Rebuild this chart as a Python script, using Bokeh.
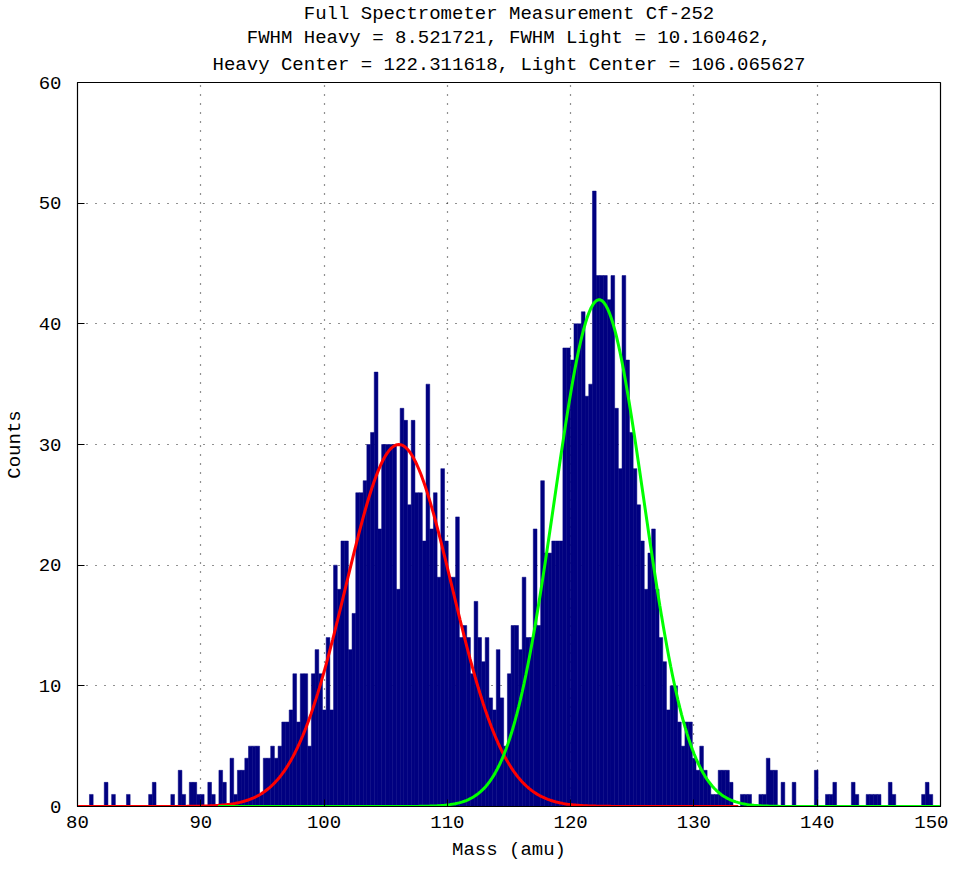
import numpy as np
from bokeh.plotting import figure
from bokeh.models import ColumnDataSource, Range1d, Title, FixedTicker
from bokeh.embed import file_html
from bokeh.resources import INLINE

# ---- histogram data (mass bins, amu) ----
bin_start = 80.07
bin_width = 0.3
counts = [
    0, 0, 0, 1, 0, 0, 0, 2, 0, 1,
    0, 0, 0, 1, 0, 0, 0, 0, 0, 1,
    2, 0, 0, 0, 0, 1, 0, 3, 1, 0,
    2, 2, 1, 1, 0, 2, 1, 0, 3, 2,
    0, 4, 1, 3, 3, 4, 5, 5, 5, 1,
    4, 4, 5, 4, 5, 7, 7, 8, 11, 7,
    11, 11, 5, 11, 13, 11, 8, 14, 8, 20,
    18, 22, 22, 13, 16, 26, 26, 27, 30, 31,
    36, 23, 30, 30, 30, 30, 18, 33, 32, 25,
    32, 26, 26, 22, 35, 23, 26, 19, 28, 22,
    19, 19, 24, 14, 15, 14, 11, 17, 14, 12,
    14, 9, 8, 13, 9, 5, 11, 15, 15, 13,
    19, 14, 14, 23, 15, 27, 21, 21, 22, 22,
    22, 38, 38, 37, 40, 40, 41, 34, 35, 51,
    44, 44, 44, 42, 44, 33, 28, 44, 37, 31,
    28, 25, 22, 18, 21, 23, 18, 14, 12, 8,
    10, 10, 7, 5, 7, 7, 4, 3, 5, 3,
    2, 1, 1, 3, 3, 3, 2, 0, 0, 1,
    1, 1, 0, 0, 1, 1, 4, 3, 3, 0,
    2, 0, 0, 2, 0, 0, 0, 0, 0, 3,
    0, 0, 1, 1, 2, 0, 0, 0, 0, 2,
    1, 0, 0, 1, 1, 1, 1, 0, 0, 2,
    1, 0, 0, 0, 0, 0, 0, 0, 1, 2,
    1, 0, 0,
]

# ---- Gaussian fit parameters (from the title) ----
light_center = 106.065627
light_fwhm = 10.160462
light_amp = 30.0
light_range = [80.0, 133.6]

heavy_center = 122.311618
heavy_fwhm = 8.521721
heavy_amp = 42.0
heavy_range = [91.4, 150.0]

x_ticks = [80, 90, 100, 110, 120, 130, 140, 150]
y_ticks = [0, 10, 20, 30, 40, 50, 60]

title_lines = [
    "Full Spectrometer Measurement Cf-252",
    "FWHM Heavy = 8.521721, FWHM Light = 10.160462,",
    "Heavy Center = 122.311618, Light Center = 106.065627",
]

FONT = "Liberation Mono"
FS = "19px"

centers = bin_start + bin_width * (np.arange(len(counts)) + 0.5)
hist_src = ColumnDataSource(dict(x=centers, top=counts))


def gauss(rng, c, fwhm, amp):
    xs = np.linspace(rng[0], rng[1], 400)
    s = fwhm / (2.0 * np.sqrt(2.0 * np.log(2.0)))
    return xs, amp * np.exp(-0.5 * ((xs - c) / s) ** 2)


lx, ly = gauss(light_range, light_center, light_fwhm, light_amp)
hx, hy = gauss(heavy_range, heavy_center, heavy_fwhm, heavy_amp)

p = figure(width=948, height=863, output_backend="svg", toolbar_location=None,
           x_range=Range1d(80, 150), y_range=Range1d(0, 60),
           title=title_lines[0],
           min_border_left=0, min_border_right=8, min_border_bottom=0, min_border_top=0)

p.title.text_font = FONT
p.title.text_font_size = FS
p.title.text_font_style = "normal"
p.title.text_color = "#000000"
p.title.align = "center"
p.title.standoff = 0
# title lines: first added sits nearest the plot
p.add_layout(Title(text=title_lines[2], text_font=FONT, text_font_size=FS, text_font_style="normal",
                   text_color="#000000", align="center", vertical_align="top", standoff=10), "above")
p.add_layout(Title(text=title_lines[1], text_font=FONT, text_font_size=FS, text_font_style="normal",
                   text_color="#000000", align="center", standoff=0), "above")

p.vbar(x="x", top="top", width=bin_width, bottom=0, source=hist_src,
       fill_color="#000080", line_color="#000080", line_width=0.5)
p.line(lx, ly, line_color="#ff0000", line_width=3)
p.line(hx, hy, line_color="#00ff00", line_width=3)

p.xaxis.ticker = FixedTicker(ticks=x_ticks)
p.yaxis.ticker = FixedTicker(ticks=y_ticks)
for ax in (p.xaxis[0], p.yaxis[0]):
    ax.major_tick_in = 7
    ax.major_tick_out = 0
    ax.minor_tick_line_color = None
    ax.axis_line_color = "#000000"
    ax.major_tick_line_color = "#000000"
    ax.major_label_text_font = FONT
    ax.major_label_text_font_size = FS
    ax.major_label_text_color = "#000000"
    ax.axis_label_text_font = FONT
    ax.axis_label_text_font_size = FS
    ax.axis_label_text_font_style = "normal"
    ax.axis_label_text_color = "#000000"

p.xaxis.axis_label = "Mass (amu)"
p.yaxis.axis_label = "Counts"
p.xaxis.major_label_standoff = 9
p.xaxis.axis_label_standoff = 8
p.yaxis.major_label_standoff = 16
p.yaxis.axis_label_standoff = 10

p.xgrid.ticker = FixedTicker(ticks=x_ticks)
p.ygrid.ticker = FixedTicker(ticks=y_ticks)
for g in (p.xgrid[0], p.ygrid[0]):
    g.grid_line_color = "#222222"
    g.grid_line_dash = "1 8"
    g.grid_line_width = 1.2

p.outline_line_color = "#000000"
p.outline_line_width = 1.2
p.background_fill_color = "#ffffff"
p.border_fill_color = "#ffffff"

open("out.html", "w").write(file_html(p, INLINE))
